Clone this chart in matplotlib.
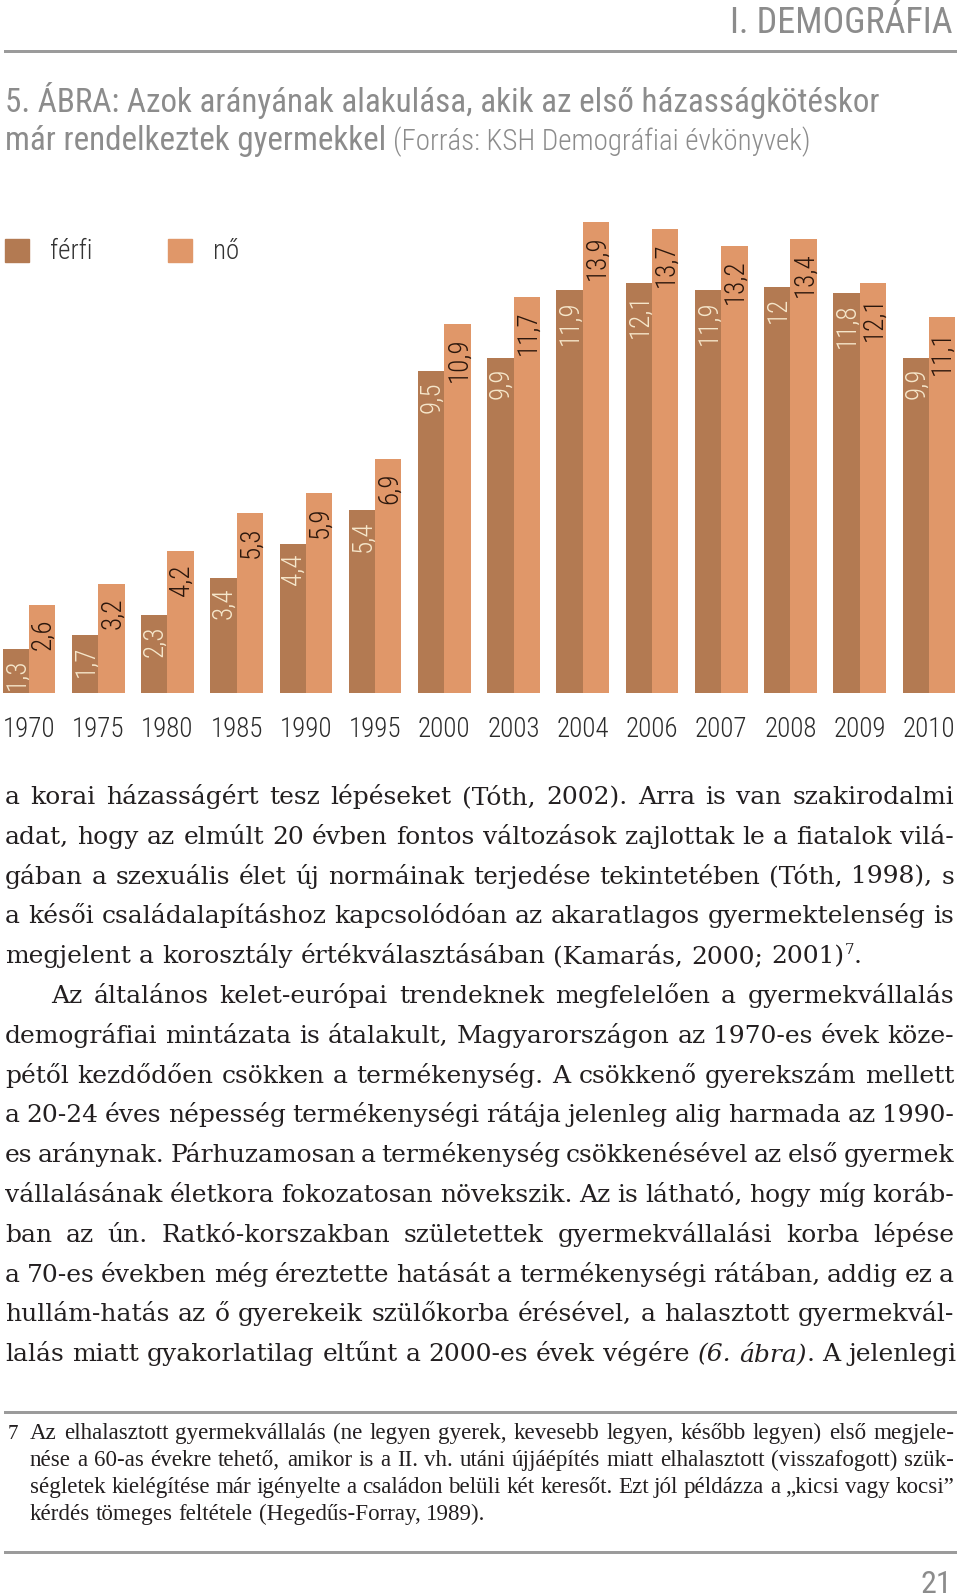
import matplotlib
matplotlib.use('Agg')
import matplotlib.pyplot as plt
from matplotlib import font_manager
from matplotlib.patches import Rectangle
from matplotlib.lines import Line2D

# --- data ---
years = ['1970', '1975', '1980', '1985', '1990', '1995', '2000',
         '2003', '2004', '2006', '2007', '2008', '2009', '2010']
ferfi = [1.3, 1.7, 2.3, 3.4, 4.4, 5.4, 9.5, 9.9, 11.9, 12.1, 11.9, 12.0, 11.8, 9.9]
no = [2.6, 3.2, 4.2, 5.3, 5.9, 6.9, 10.9, 11.7, 13.9, 13.7, 13.2, 13.4, 12.1, 11.1]
series_names = ['férfi', 'nő']

header = 'I. DEMOGRÁFIA'
title1 = '5. ÁBRA: Azok arányának alakulása, akik az első házasságkötéskor'
title2 = 'már rendelkeztek gyermekkel'
source = '(Forrás: KSH Demográfiai évkönyvek)'

# _ toggles italic, ^ toggles superscript
body = [
    'a korai házasságért tesz lépéseket (Tóth, 2002). Arra is van szakirodalmi',
    'adat, hogy az elmúlt 20 évben fontos változások zajlottak le a fiatalok vilá-',
    'gában a szexuális élet új normáinak terjedése tekintetében (Tóth, 1998), s',
    'a késői családalapításhoz kapcsolódóan az akaratlagos gyermektelenség is',
    'megjelent a korosztály értékválasztásában (Kamarás, 2000; 2001)^7^.',
    'Az általános kelet-európai trendeknek megfelelően a gyermekvállalás',
    'demográfiai mintázata is átalakult, Magyarországon az 1970-es évek köze-',
    'pétől kezdődően csökken a termékenység. A csökkenő gyerekszám mellett',
    'a 20-24 éves népesség termékenységi rátája jelenleg alig harmada az 1990-',
    'es aránynak. Párhuzamosan a termékenység csökkenésével az első gyermek',
    'vállalásának életkora fokozatosan növekszik. Az is látható, hogy míg koráb-',
    'ban az ún. Ratkó-korszakban születettek gyermekvállalási korba lépése',
    'a 70-es években még éreztette hatását a termékenységi rátában, addig ez a',
    'hullám-hatás az ő gyerekeik szülőkorba érésével, a halasztott gyermekvál-',
    'lalás miatt gyakorlatilag eltűnt a 2000-es évek végére _(6. ábra)_. A jelenlegi',
]
body_last = [4, 14]   # not justified
body_indent = [5]

foot = [
    'Az elhalasztott gyermekvállalás (ne legyen gyerek, kevesebb legyen, később legyen) első megjele-',
    'nése a 60-as évekre tehető, amikor is a II. vh. utáni újjáépítés miatt elhalasztott (visszafogott) szük-',
    'ségletek kielégítése már igényelte a családon belüli két keresőt. Ezt jól példázza a „kicsi vagy kocsi”',
    'kérdés tömeges feltétele (Hegedűs-Forray, 1989).',
]
page_no = '21'

c_ferfi = '#b37a52'
c_no = '#e09769'
grey = '#8c8c8c'
ink = '#231f20'

names = {f.name for f in font_manager.fontManager.ttflist}
def pick(*cands):
    for n in cands:
        if n in names:
            return n
    return 'DejaVu Sans'

din = pick('Roboto Condensed', 'Liberation Sans Narrow', 'Roboto')
serif = pick('DejaVu Serif', 'Liberation Serif')
narrow_serif = pick('DejaVu Serif Condensed', 'Liberation Serif')

W, H = 960, 1596
fig = plt.figure(figsize=(W / 100, H / 100), dpi=100)
fig.patch.set_facecolor('white')
r = fig.canvas.get_renderer()

def put(x, y, s, size, **kw):
    kw.setdefault('va', 'baseline')
    return fig.text(x / W, 1 - y / H, s, fontsize=size * 0.72, **kw)

def wid(t):
    return t.get_window_extent(r).width

def fit(x, y, s, size, target, **kw):
    t = put(x, y, s, size, **kw)
    t.set_fontsize(size * 0.72 * target / wid(t))
    return t

def hline(y, lw=3, c='#9b9b9b'):
    fig.add_artist(Line2D([5 / W, 955 / W], [1 - y / H] * 2, lw=lw * 0.72, color=c))

# --- header ---
fit(952, 33, header, 32, 224, family=din, color=grey, ha='right')
hline(51)
t1 = fit(5, 112, title1, 28, 875, family=din, color=grey)
fs_t = t1.get_fontsize() / 0.72
t2 = put(5, 150, title2, fs_t, family=din, color=grey)
x2 = 5 + wid(t2) + 7
fit(x2, 150, source, fs_t * 0.75, 810 - x2, family=din, color=grey, fontweight='light')

# --- chart ---
base = 692.7
unit = 33.84
ax = fig.add_axes([0, 1 - base / H, 1, (base - 200) / H])
ax.set_xlim(-0.42, 13.45)
ax.set_ylim(0, (base - 200) / unit)
ax.axis('off')
bw = 0.38
xs = list(range(len(years)))
ax.bar([x - bw / 2 for x in xs], ferfi, bw, color=c_ferfi)
ax.bar([x + bw / 2 for x in xs], no, bw, color=c_no)

def lab(v):
    return f'{v:g}'.replace('.', ',')

fs_lab = 27 * 0.72
for x, a, b in zip(xs, ferfi, no):
    ax.text(x - bw / 2 + 0.01, a - 0.3, lab(a), rotation=90, ha='center', va='top',
            fontsize=fs_lab, family=din, fontweight='light', color='#f6e7cb')
    ax.text(x + bw / 2 + 0.015, b - 0.4, lab(b), rotation=90, ha='center', va='top',
            fontsize=fs_lab, family=din, fontweight='light', color='#2a160c')
    ax.text(x, -1.1, years[x], ha='center', va='center', clip_on=False,
            fontsize=27 * 0.72, family=din, fontweight='light', color='#2b2b2b')

# legend
for (lx, tx), name, c in zip([(5, 50), (168, 213)], series_names, [c_ferfi, c_no]):
    fig.add_artist(Rectangle((lx / W, 1 - 262 / H), 23.5 / W, 23 / H,
                             transform=fig.transFigure, color=c))
    put(tx, 259, name, 27, family=din, fontweight='light', color='#333333')

# --- justified text ---
def parse(line):
    words, it, sup = [], False, False
    for w in line.split(' '):
        segs, buf = [], ''
        for ch in w:
            if ch in '_^':
                if buf:
                    segs.append((buf, it, sup))
                    buf = ''
                if ch == '_':
                    it = not it
                else:
                    sup = not sup
            else:
                buf += ch
        if buf:
            segs.append((buf, it, sup))
        words.append(segs)
    return words

def space_w(size, family):
    a = put(0, 0, 'n n', size, family=family)
    b = put(0, 0, 'nn', size, family=family)
    s = wid(a) - wid(b)
    a.remove()
    b.remove()
    return s

def draw_line(line, y, x0, x1, size, family, justify, color=ink):
    arts, total = [], 0
    for segs in parse(line):
        ws = []
        for s, it, sup in segs:
            sz = size * 0.6 if sup else size
            t = put(0, y - (size * 0.38 if sup else 0), s, sz, family=family,
                    style='italic' if it else 'normal', color=color)
            ws.append((t, wid(t)))
        total += sum(w for _, w in ws)
        arts.append(ws)
    sp = space_w(size, family)
    if justify and len(arts) > 1:
        sp = (x1 - x0 - total) / (len(arts) - 1)
    x = x0
    for ws in arts:
        for t, w in ws:
            t.set_x(x / W)
            x += w
        x += sp
    return total, len(arts) - 1

def natural(line, size, family, squeeze):
    total, gaps = draw_line(line, -100, 0, 1, size, family, False)
    for t in list(fig.texts):
        if t.get_position()[1] > 1:
            t.remove()
    return total + squeeze * space_w(size, family) * gaps

def block(lines, y0, dy, x0, x1, size, family, last, indent=(), ind=0, squeeze=0.6):
    k = 1.0
    for i, ln in enumerate(lines):
        if i in last:
            continue
        xa = x0 + (ind if i in indent else 0)
        k = min(k, (x1 - xa) / natural(ln, size, family, squeeze))
    size *= k
    for i, ln in enumerate(lines):
        xa = x0 + (ind if i in indent else 0)
        draw_line(ln, y0 + i * dy, xa, x1, size, family, i not in last)

block(body, 804, 39.8, 5, 954, 25, serif, body_last, body_indent, 46, 0.55)

hline(1412)
put(8, 1439, '7', 21, family=narrow_serif, color=ink)
block(foot, 1439, 27, 30, 954, 23, narrow_serif, [3], squeeze=0.5)
hline(1552)
put(952, 1593, page_no, 32, family=din, color=grey, ha='right')

fig.savefig('out.png', dpi=100, facecolor='white')
